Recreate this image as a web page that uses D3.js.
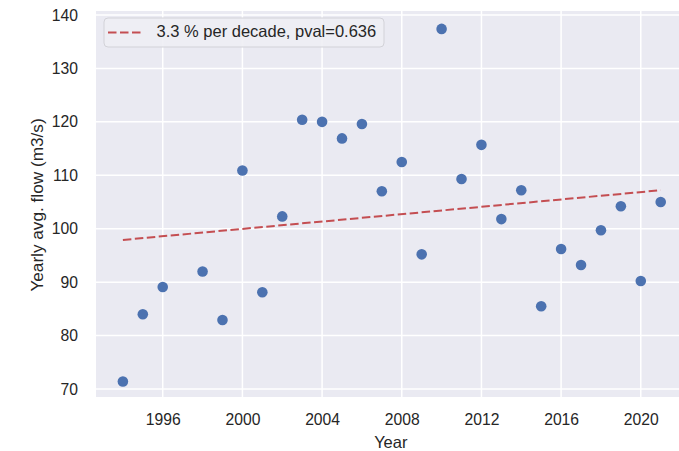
<!DOCTYPE html>
<html>
<head>
<meta charset="utf-8">
<script src="https://cdn.jsdelivr.net/npm/d3@7"></script>
<style>
  html, body { margin: 0; padding: 0; background: #ffffff; }
  svg { display: block; font-family: "Liberation Sans", Arial, sans-serif; }
</style>
</head>
<body>
<svg id="chart" width="679" height="451"></svg>
<script>
const years = [1994, 1995, 1996, 1998, 1999, 2000, 2001, 2002, 2003, 2004, 2005, 2006, 2007, 2008, 2009, 2010, 2011, 2012, 2013, 2014, 2015, 2016, 2017, 2018, 2019, 2020, 2021];
const flows = [71.4, 84.0, 89.1, 92.0, 82.9, 110.9, 88.1, 102.3, 120.4, 120.0, 116.9, 119.6, 107.0, 112.5, 95.2, 137.4, 109.3, 115.7, 101.8, 107.2, 85.5, 96.2, 93.2, 99.7, 104.2, 90.2, 105.0];
const trendYears = [1994, 2021];
const trendValues = [97.9, 107.2];
const xTicks = [1996, 2000, 2004, 2008, 2012, 2016, 2020];
const yTicks = [70, 80, 90, 100, 110, 120, 130, 140];
const legendLabel = "3.3 % per decade, pval=0.636";
const xLabel = "Year";
const yLabel = "Yearly avg. flow (m3/s)";

(function () {
const svg = d3.select("#chart");
const pLeft = 96, pRight = 687.6, pTop = 11, pBottom = 397;
const textColor = "#262626";
const fontFam = "Liberation Sans, Arial, sans-serif";

const x = d3.scaleLinear().domain([1992.65, 2022.35]).range([pLeft, pRight]);
const y = d3.scaleLinear().domain([68.5, 140.75]).range([pBottom, pTop]);

svg.append("defs").append("clipPath").attr("id", "clip")
  .append("rect").attr("x", pLeft).attr("y", pTop).attr("width", pRight - pLeft).attr("height", pBottom - pTop);

svg.append("rect").attr("x", pLeft).attr("y", pTop).attr("width", pRight - pLeft).attr("height", pBottom - pTop)
  .attr("fill", "#eaeaf2");

const grid = svg.append("g").attr("clip-path", "url(#clip)");
grid.selectAll(".gx").data(xTicks).enter().append("line")
  .attr("x1", d => x(d)).attr("x2", d => x(d)).attr("y1", pTop).attr("y2", pBottom)
  .attr("stroke", "#ffffff").attr("stroke-width", 1.5);
grid.selectAll(".gy").data(yTicks).enter().append("line")
  .attr("y1", d => y(d)).attr("y2", d => y(d)).attr("x1", pLeft).attr("x2", pRight)
  .attr("stroke", "#ffffff").attr("stroke-width", 1.5);

const xAxis = d3.axisBottom(x).tickValues(xTicks).tickFormat(d3.format("d")).tickSize(0).tickPadding(16.5);
const gx = svg.append("g").attr("transform", `translate(0,${pBottom})`).call(xAxis);
gx.select(".domain").remove();
gx.selectAll("text").attr("font-size", 15.7).attr("fill", textColor).attr("font-family", fontFam);

const yAxis = d3.axisLeft(y).tickValues(yTicks).tickSize(0).tickPadding(18);
const gy = svg.append("g").attr("transform", `translate(${pLeft},0)`).call(yAxis);
gy.select(".domain").remove();
gy.selectAll("text").attr("font-size", 15.7).attr("fill", textColor).attr("font-family", fontFam);

const plot = svg.append("g").attr("clip-path", "url(#clip)");

const line = d3.line().x(d => x(d[0])).y(d => y(d[1]));
plot.append("path").datum(trendYears.map((t, i) => [t, trendValues[i]]))
  .attr("d", line).attr("fill", "none").attr("stroke", "#c44e52")
  .attr("stroke-width", 2).attr("stroke-dasharray", "8.5,3.5");

plot.selectAll("circle").data(years).enter().append("circle")
  .attr("cx", d => x(d)).attr("cy", (d, i) => y(flows[i])).attr("r", 5.3)
  .attr("fill", "#4c72b0");

const lg = svg.append("g");
lg.append("rect").attr("x", 104).attr("y", 18).attr("width", 280).attr("height", 29)
  .attr("rx", 4).attr("fill", "#eeeef4").attr("fill-opacity", 0.9).attr("stroke", "#d2d2d8").attr("stroke-width", 1);
lg.append("line").attr("x1", 108).attr("x2", 143).attr("y1", 32.5).attr("y2", 32.5)
  .attr("stroke", "#c44e52").attr("stroke-width", 2).attr("stroke-dasharray", "8.5,3.5");
lg.append("text").attr("x", 156.5).attr("y", 36.8).attr("font-size", 16.5).attr("fill", textColor)
  .text(legendLabel);

svg.append("text").attr("x", (pLeft + pRight) / 2 - 1).attr("y", 448).attr("text-anchor", "middle")
  .attr("font-size", 16.5).attr("fill", textColor).text(xLabel);
svg.append("text").attr("transform", `translate(43,205) rotate(-90)`)
  .attr("text-anchor", "middle").attr("font-size", 17.2).attr("fill", textColor).text(yLabel);
})();
</script>
</body>
</html>
